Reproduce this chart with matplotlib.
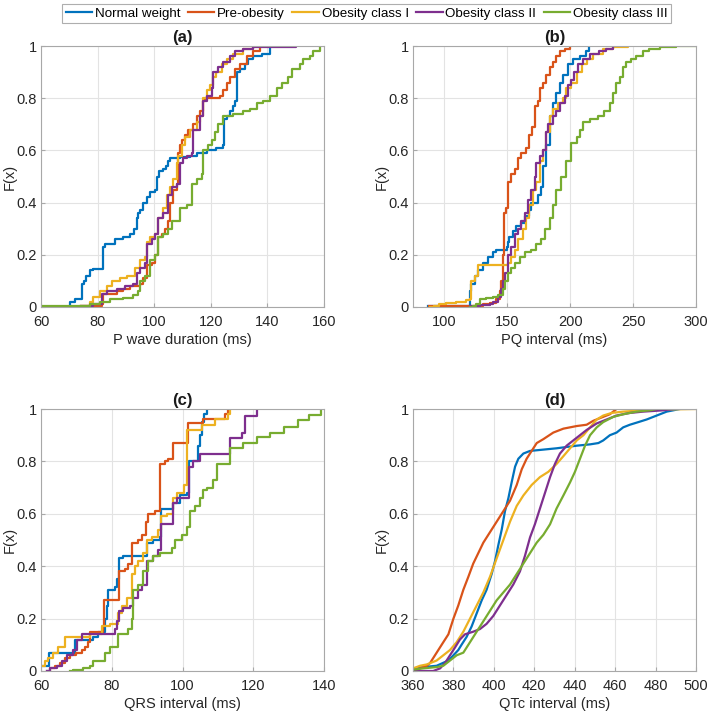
import matplotlib.pyplot as plt
from matplotlib.ticker import FormatStrFormatter

plt.rcParams['font.family'] = ['Liberation Sans', 'DejaVu Sans']

groups = ['Normal weight', 'Pre-obesity', 'Obesity class I', 'Obesity class II', 'Obesity class III']
colors = ['#0072BD', '#D95319', '#EDB120', '#7E2F8E', '#77AC30']

# (a) P wave duration: step positions (ms) and F(x) after each step
pw_x = [
    [60, 70.2, 72, 74.4, 75.3, 76, 77.3, 78.5, 81.8, 82.6, 86, 89, 91.4, 93, 93.8, 94.2, 95, 96.2, 97.3, 98.5,
     100.3, 100.9, 101.8, 103.2, 104.2, 105, 105.6, 109.1, 112.6, 115, 118.5, 122, 124.4, 124.8, 125.6, 126.8,
     127.7, 128.5, 129.1, 130.3, 132, 133.3, 135, 138, 141],
    [60, 73.8, 81.4, 82, 86.7, 89, 91.4, 95, 96.2, 97.3, 99.1, 100.3, 101.5, 102.6, 103.8, 105, 105.6, 106.8,
     107.9, 108.5, 109.1, 109.7, 110.9, 112.1, 113.8, 115, 116.2, 117.4, 118, 123.3, 124.4, 125.6, 126.8, 128.5,
     130.3, 132.7, 135, 137.4],
    [60, 73.8, 77.3, 78.5, 80.8, 83.2, 85, 87.9, 90.3, 93.2, 95, 96.8, 97.3, 98.5, 100.3, 101.5, 103.2, 104.4,
     105.6, 106.8, 107.9, 108.5, 109.7, 110.9, 112.6, 115, 116.2, 117.4, 118.5, 119.7, 120.9, 122, 123.8, 125.6,
     128, 131.5, 135],
    [60, 73.8, 78.5, 81.4, 83.2, 86.7, 89.7, 92.6, 93.8, 95, 96.8, 97.3, 99.1, 100.3, 101.5, 103.2, 105, 106.2,
     107.9, 109.1, 110.3, 111.5, 113.3, 113.8, 116.2, 117.4, 118.5, 120.3, 120.9, 122.7, 124.4, 126.8, 128.5,
     131.5, 135, 150],
    [60, 74.4, 77.3, 80.8, 84.4, 89, 92.6, 94.4, 95, 96.8, 98.5, 100.3, 101.5, 103.2, 105, 106.2, 109.1, 111.5,
     113.3, 115, 116.8, 117.4, 119.1, 120.3, 121.5, 122.7, 124.4, 128, 131.5, 133.8, 136.2, 138.6, 141, 143.3,
     145, 147.4, 148.6, 151.5, 152.7, 155, 156.2, 158.6],
]
pw_f = [
    [0, 0.02, 0.03, 0.09, 0.10, 0.12, 0.14, 0.145, 0.23, 0.24, 0.26, 0.27, 0.28, 0.30, 0.34, 0.36, 0.37, 0.40,
     0.42, 0.44, 0.45, 0.50, 0.52, 0.53, 0.54, 0.56, 0.57, 0.575, 0.58, 0.59, 0.60, 0.61, 0.62, 0.72, 0.73, 0.75,
     0.77, 0.79, 0.90, 0.91, 0.93, 0.95, 0.96, 0.97, 1.0],
    [0, 0.005, 0.01, 0.05, 0.06, 0.07, 0.08, 0.09, 0.11, 0.16, 0.17, 0.20, 0.27, 0.28, 0.30, 0.33, 0.40, 0.45,
     0.47, 0.59, 0.62, 0.64, 0.66, 0.68, 0.70, 0.73, 0.75, 0.79, 0.80, 0.81, 0.83, 0.86, 0.88, 0.91, 0.93, 0.96,
     0.98, 1.0],
    [0, 0.005, 0.02, 0.04, 0.06, 0.08, 0.10, 0.11, 0.12, 0.15, 0.18, 0.19, 0.25, 0.27, 0.28, 0.34, 0.38, 0.43,
     0.46, 0.49, 0.55, 0.58, 0.62, 0.65, 0.68, 0.71, 0.73, 0.80, 0.83, 0.85, 0.88, 0.90, 0.93, 0.95, 0.97, 0.99,
     1.0],
    [0, 0.003, 0.01, 0.05, 0.06, 0.07, 0.08, 0.09, 0.13, 0.15, 0.17, 0.24, 0.26, 0.28, 0.34, 0.36, 0.43, 0.46,
     0.47, 0.55, 0.57, 0.58, 0.59, 0.68, 0.73, 0.79, 0.81, 0.84, 0.90, 0.92, 0.94, 0.96, 0.98, 0.99, 0.997, 1.0],
    [0.003, 0.005, 0.01, 0.02, 0.03, 0.035, 0.045, 0.06, 0.10, 0.12, 0.18, 0.20, 0.27, 0.28, 0.30, 0.33, 0.38,
     0.39, 0.47, 0.49, 0.51, 0.60, 0.62, 0.64, 0.67, 0.70, 0.73, 0.74, 0.75, 0.76, 0.78, 0.79, 0.81, 0.84, 0.86,
     0.88, 0.91, 0.93, 0.95, 0.96, 0.98, 1.0],
]

# (b) PQ interval
pq_x = [
    [87, 120, 121, 124, 126.5, 130.5, 134.5, 138.5, 141, 150, 150.4, 151.7, 154.4, 157, 161, 163.7, 167.6, 169,
     174.3, 177, 178, 181, 183.6, 186, 189, 191.5, 194, 198, 202, 207.4, 212.7, 215],
    [88, 130.5, 136, 141, 143.8, 145, 146.4, 147.7, 149, 150.4, 153, 155.7, 158.4, 161, 165, 167.6, 169.8,
     171.6, 174.3, 175.6, 178, 181, 183.6, 186, 189, 191.5, 195.5, 199.5],
    [88.6, 92, 96, 101, 109, 117, 120, 121, 124, 126.5, 150.4, 153, 155.7, 158.4, 162.3, 165, 167.6, 170.3, 173,
     175.6, 178, 181, 183.6, 186, 190, 194, 197, 201, 205, 209, 213, 218, 226, 234, 246],
    [120, 128, 136, 138.5, 142.4, 145, 146.4, 148.5, 150.4, 153, 155.7, 158.4, 161, 163.7, 166.3, 169, 171.6,
     173, 175.6, 178, 180.4, 182.2, 186, 189, 191.5, 195.5, 198, 201, 203.4, 206, 210, 215.4, 223, 228.6, 234],
    [120, 122.5, 125, 128, 133, 138.5, 142.4, 146.4, 148.5, 150.4, 153, 155.7, 159.7, 163.7, 169, 173, 177,
     179.6, 183.6, 186, 189, 193, 197, 201, 205, 207.4, 210, 215.4, 222, 227, 231.3, 234, 236.6, 239.3, 242,
     244.6, 248.5, 252.5, 257.8, 263, 271, 284, 300],
]
pq_f = [
    [0.002, 0.06, 0.09, 0.12, 0.14, 0.17, 0.19, 0.21, 0.22, 0.23, 0.25, 0.27, 0.29, 0.31, 0.32, 0.35, 0.37, 0.40,
     0.43, 0.46, 0.54, 0.62, 0.73, 0.78, 0.82, 0.86, 0.89, 0.93, 0.95, 0.96, 0.98, 1.0],
    [0.003, 0.01, 0.015, 0.03, 0.06, 0.10, 0.20, 0.36, 0.38, 0.48, 0.51, 0.53, 0.57, 0.59, 0.61, 0.66, 0.69,
     0.77, 0.79, 0.84, 0.86, 0.89, 0.92, 0.94, 0.96, 0.98, 0.99, 1.0],
    [0, 0.005, 0.01, 0.015, 0.02, 0.025, 0.03, 0.10, 0.12, 0.16, 0.17, 0.19, 0.22, 0.26, 0.30, 0.34, 0.39, 0.45,
     0.48, 0.56, 0.60, 0.67, 0.73, 0.76, 0.78, 0.80, 0.84, 0.86, 0.90, 0.93, 0.95, 0.97, 0.99, 0.997, 1.0],
    [0.003, 0.006, 0.01, 0.02, 0.04, 0.07, 0.10, 0.13, 0.20, 0.23, 0.28, 0.30, 0.33, 0.36, 0.41, 0.45, 0.50,
     0.55, 0.58, 0.60, 0.67, 0.70, 0.73, 0.75, 0.78, 0.81, 0.85, 0.87, 0.90, 0.93, 0.95, 0.97, 0.98, 0.99, 1.0],
    [0, 0.005, 0.01, 0.03, 0.035, 0.04, 0.045, 0.07, 0.10, 0.13, 0.15, 0.17, 0.19, 0.21, 0.22, 0.24, 0.26, 0.30,
     0.34, 0.39, 0.45, 0.50, 0.56, 0.63, 0.65, 0.68, 0.71, 0.72, 0.73, 0.75, 0.78, 0.82, 0.86, 0.88, 0.92, 0.94,
     0.95, 0.96, 0.98, 0.99, 0.995, 0.999, 1.0],
]

# (c) QRS interval
qrs_x = [
    [60, 62.4, 69.6, 74.8, 76.2, 78.1, 78.6, 79.0, 80.9, 81.6, 82.1, 83.3, 89.9, 91.8, 93.6, 93.8, 97.4, 99.3,
     101.2, 101.7, 104.5, 105.0, 105.6, 106.1, 106.8],
    [61.6, 62.5, 64, 65.4, 66.8, 68.2, 70, 71.5, 72.4, 73.4, 73.9, 77.6, 77.9, 82, 83.8, 84.7, 85.6, 87.5, 88.5,
     89.7, 90.3, 92.2, 93.6, 95, 96, 97.4, 101.6, 105.9, 112, 113],
    [60, 61.1, 62.1, 63.5, 64.9, 66.8, 73.9, 77.2, 79.5, 81.9, 82.8, 84.2, 85.6, 86.6, 87.5, 88.9, 89.9, 91.3,
     93.2, 93.8, 95.5, 97.2, 98.4, 100.3, 101.2, 105.4, 109.2, 113, 113.5],
    [61.6, 62.5, 64.4, 65.8, 67.3, 69.1, 70.1, 71.5, 80.9, 81.6, 82.1, 83.3, 85.2, 86.1, 87.5, 88.5, 89.9, 91.8,
     93.2, 93.8, 97.2, 98.4, 101.7, 103.1, 105, 113.4, 116.7, 117.6, 121],
    [68.2, 69.1, 72, 73.9, 74.8, 78.1, 79.5, 81.9, 84.7, 85.6, 86.1, 87.5, 88.9, 90.3, 91.8, 93.6, 96.9, 97.9,
     99.8, 101.2, 102.1, 103.5, 105, 105.9, 106.8, 108.7, 109.7, 113.4, 117, 121, 124.6, 128.8, 132.6, 135.9,
     139.2],
]
qrs_f = [
    [0.02, 0.07, 0.12, 0.13, 0.15, 0.20, 0.25, 0.31, 0.32, 0.35, 0.43, 0.44, 0.49, 0.50, 0.51, 0.62, 0.64, 0.67,
     0.68, 0.80, 0.86, 0.90, 0.95, 0.98, 1.0],
    [0, 0.01, 0.02, 0.03, 0.05, 0.06, 0.07, 0.08, 0.09, 0.11, 0.15, 0.17, 0.27, 0.38, 0.39, 0.41, 0.49, 0.50,
     0.52, 0.57, 0.60, 0.61, 0.79, 0.80, 0.81, 0.87, 0.945, 0.96, 0.98, 1.0],
    [0.02, 0.04, 0.05, 0.07, 0.09, 0.13, 0.14, 0.17, 0.18, 0.22, 0.25, 0.28, 0.37, 0.40, 0.42, 0.45, 0.50, 0.51,
     0.54, 0.59, 0.60, 0.66, 0.68, 0.71, 0.92, 0.94, 0.96, 0.98, 1.0],
    [0, 0.01, 0.02, 0.04, 0.06, 0.08, 0.12, 0.14, 0.16, 0.19, 0.23, 0.24, 0.25, 0.28, 0.31, 0.33, 0.42, 0.44,
     0.46, 0.56, 0.64, 0.66, 0.78, 0.80, 0.83, 0.89, 0.91, 0.975, 1.0],
    [0, 0.005, 0.01, 0.02, 0.04, 0.07, 0.09, 0.14, 0.16, 0.20, 0.31, 0.33, 0.38, 0.42, 0.44, 0.45, 0.47, 0.50,
     0.52, 0.55, 0.61, 0.63, 0.66, 0.69, 0.70, 0.73, 0.79, 0.85, 0.87, 0.895, 0.91, 0.93, 0.958, 0.977, 1.0],
]

# (d) QTc interval (densely sampled, drawn as a line through the read points)
qtc_x = [
    [360, 361, 365.1, 371.7, 377.5, 380, 382.4, 384, 386.5, 389, 391.5, 394, 396.4, 398.9, 400.6, 402.2, 403.9,
     405.5, 407.2, 408.8, 410.5, 412.1, 414.6, 417.9, 424.5, 431, 441, 447.6, 451.7, 454.1, 457.4, 460.7, 464,
     467.3, 471.5, 475.6, 478.9, 482.2, 485.5, 488.8, 492],
    [360, 363.5, 366.8, 368.4, 371.7, 375, 377.5, 380, 382.4, 384.9, 387.4, 389.8, 392.3, 394.8, 398.1, 401.4,
     404.7, 408, 411.3, 413.8, 416.2, 418.7, 421.2, 424.5, 429.4, 434.4, 441, 445.9, 449.2, 454.1, 457.4, 460.7],
    [360, 363.5, 366.8, 371.7, 375, 378.3, 381.6, 384.9, 388.2, 391.5, 394.8, 398.1, 401.4, 404.7, 408, 411.3,
     414.6, 418.7, 422.8, 426.9, 431, 434.4, 437.7, 441, 444.3, 447.6, 450.9, 454.1, 458.3, 464, 473.9, 483.8,
     500],
    [360, 370, 371.7, 373.4, 375.8, 378.3, 380.8, 383.2, 385.7, 389.8, 393.1, 396.4, 399.7, 403, 406.3, 409.6,
     412.9, 415.4, 417.9, 420.3, 422.8, 425.3, 427.8, 430.2, 432.7, 436, 439.3, 442.6, 445.9, 450.9, 455.8,
     460.7, 467.3, 473.9, 483.8, 488.8],
    [360, 365.1, 371.7, 375, 378.3, 381.6, 384.9, 388.2, 391.5, 394.8, 398.1, 401.4, 404.7, 408, 411.3, 414.6,
     417.9, 421.2, 424.5, 427.8, 431, 434.4, 437.7, 440.1, 442.6, 445.1, 447.6, 450.9, 454.1, 459.1, 464, 470.6,
     477.2, 480.5],
]
qtc_f = [
    [0.005, 0.01, 0.015, 0.02, 0.04, 0.06, 0.08, 0.10, 0.13, 0.17, 0.22, 0.27, 0.31, 0.37, 0.42, 0.48, 0.54,
     0.61, 0.66, 0.72, 0.78, 0.81, 0.83, 0.84, 0.845, 0.85, 0.86, 0.865, 0.87, 0.88, 0.90, 0.91, 0.93, 0.94,
     0.95, 0.96, 0.97, 0.98, 0.99, 0.995, 1.0],
    [0.005, 0.01, 0.02, 0.03, 0.07, 0.11, 0.14, 0.20, 0.25, 0.31, 0.36, 0.41, 0.45, 0.49, 0.53, 0.57, 0.61,
     0.65, 0.71, 0.77, 0.81, 0.84, 0.87, 0.885, 0.91, 0.925, 0.935, 0.94, 0.955, 0.97, 0.98, 1.0],
    [0.01, 0.02, 0.025, 0.04, 0.06, 0.08, 0.11, 0.15, 0.20, 0.25, 0.30, 0.36, 0.43, 0.50, 0.57, 0.63, 0.67,
     0.71, 0.74, 0.76, 0.79, 0.82, 0.85, 0.88, 0.90, 0.93, 0.96, 0.975, 0.985, 0.99, 0.995, 0.998, 1.0],
    [0, 0, 0.005, 0.01, 0.03, 0.06, 0.09, 0.12, 0.14, 0.15, 0.16, 0.18, 0.21, 0.25, 0.29, 0.33, 0.38, 0.44,
     0.51, 0.56, 0.62, 0.68, 0.74, 0.79, 0.83, 0.86, 0.88, 0.90, 0.92, 0.945, 0.96, 0.975, 0.985, 0.99, 0.995,
     1.0],
    [0.005, 0.01, 0.015, 0.02, 0.04, 0.06, 0.07, 0.11, 0.15, 0.19, 0.23, 0.27, 0.30, 0.33, 0.37, 0.41, 0.45,
     0.49, 0.52, 0.56, 0.62, 0.67, 0.72, 0.76, 0.81, 0.86, 0.90, 0.93, 0.95, 0.97, 0.98, 0.99, 0.995, 1.0],
]

panels = [
    ('(a)', 'P wave duration (ms)', pw_x, pw_f, (60, 160), [60, 80, 100, 120, 140, 160], True),
    ('(b)', 'PQ interval (ms)', pq_x, pq_f, (75, 300), [100, 150, 200, 250, 300], True),
    ('(c)', 'QRS interval (ms)', qrs_x, qrs_f, (60, 140), [60, 80, 100, 120, 140], True),
    ('(d)', 'QTc interval (ms)', qtc_x, qtc_f, (360, 500), [360, 380, 400, 420, 440, 460, 480, 500], False),
]

W, H = 709, 712
fig = plt.figure(figsize=(W / 100, H / 100), dpi=100)

# axes boxes in pixels: left, top, right, bottom
boxes = [(41, 46, 324, 307), (413, 46, 696, 307), (41, 409, 324, 671), (413, 409, 696, 671)]

lines = []
for (title, xlabel, xs, fs, xlim, xticks, stairs), (l, t, r, b) in zip(panels, boxes):
    ax = fig.add_axes([l / W, 1 - b / H, (r - l) / W, (b - t) / H])
    for x, f, c, g in zip(xs, fs, colors, groups):
        if stairs:
            ln, = ax.step(x, f, where='post', color=c, lw=1.6, label=g)
        else:
            ln, = ax.plot(x, f, color=c, lw=1.6, label=g)
        if title == '(a)':
            lines.append(ln)
    ax.set_xlim(*xlim)
    ax.set_ylim(0, 1)
    ax.set_xticks(xticks)
    ax.set_yticks([0, 0.2, 0.4, 0.6, 0.8, 1])
    ax.yaxis.set_major_formatter(FormatStrFormatter('%g'))
    ax.grid(True, color='#e3e3e3', lw=0.8)
    ax.set_axisbelow(True)
    for s in ax.spines.values():
        s.set_color('#a8a8a8')
        s.set_linewidth(0.8)
    ax.tick_params(direction='in', length=3, color='#a8a8a8', labelsize=10.5,
                   labelcolor='#262626')
    ax.tick_params(axis='x', pad=5.5)
    ax.tick_params(axis='y', pad=3)
    ax.set_xlabel(xlabel, fontsize=10.5, color='#262626', labelpad=3)
    ax.set_ylabel('F(x)', fontsize=10.5, color='#262626', labelpad=0)
    ax.set_title(title, fontsize=12, fontweight='bold', color='#1a1a1a', pad=3)

leg = fig.legend(lines, groups, loc='center', bbox_to_anchor=(366.5 / W, 1 - 13.5 / H), ncol=5,
                 prop={'family': ['Liberation Sans Narrow', 'Liberation Sans'], 'size': 9.6},
                 frameon=True, fancybox=False, edgecolor='#9a9a9a',
                 handlelength=2.0, handletextpad=0.2, columnspacing=0.55, borderpad=0.28,
                 borderaxespad=0)
leg.get_frame().set_linewidth(0.8)

plt.savefig('out.png', dpi=100)
